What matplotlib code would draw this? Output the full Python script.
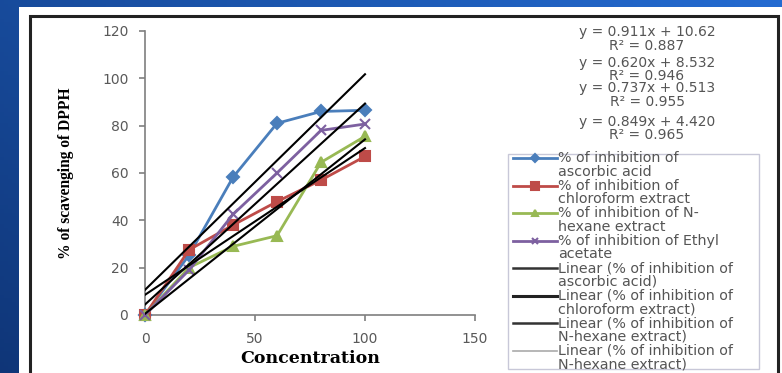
import numpy as np
import matplotlib
matplotlib.use("Agg")
import matplotlib.pyplot as plt
from matplotlib.lines import Line2D
from matplotlib.patches import Rectangle

# ---- data ----
conc = [0, 20, 40, 60, 80, 100]
ascorbic = [0, 25.3, 58.2, 81, 86, 86.5]
chloroform = [0, 27.5, 38, 47.9, 57, 67]
hexane = [0, 20, 29, 33.5, 64.5, 75.5]
ethyl = [0, 19, 42.5, 60, 78, 80.7]

slopes = [0.911, 0.620, 0.737, 0.849]
intercepts = [10.62, 8.532, 0.513, 4.420]
eq_labels = ["y = 0.911x + 10.62\nR² = 0.887",
             "y = 0.620x + 8.532\nR² = 0.946",
             "y = 0.737x + 0.513\nR² = 0.955",
             "y = 0.849x + 4.420\nR² = 0.965"]
legend_labels = ["% of inhibition of\nascorbic acid",
                 "% of inhibition of\nchloroform extract",
                 "% of inhibition of N-\nhexane extract",
                 "% of inhibition of Ethyl\nacetate",
                 "Linear (% of inhibition of\nascorbic acid)",
                 "Linear (% of inhibition of\nchloroform extract)",
                 "Linear (% of inhibition of\nN-hexane extract)",
                 "Linear (% of inhibition of\nN-hexane extract)"]
xticks = [0, 50, 100, 150]
yticks = [0, 20, 40, 60, 80, 100, 120]

W, H = 782, 373
fig = plt.figure(figsize=(W / 100, H / 100), dpi=100)

# background gradient
bg = fig.add_axes([0, 0, 1, 1])
bg.set_axis_off()
gx = np.linspace(0, 1, 200)
gy = np.linspace(0, 1, 100)
GX, GY = np.meshgrid(gx, gy)
t = np.clip(0.6 * GX + 0.4 * (1 - GY), 0, 1)
c0 = np.array([0.06, 0.21, 0.47])
c1 = np.array([0.14, 0.42, 0.82])
img = c0[None, None, :] * (1 - t[..., None]) + c1[None, None, :] * t[..., None]
bg.imshow(img, extent=[0, 1, 0, 1], aspect="auto", origin="upper")
bg.set_xlim(0, 1)
bg.set_ylim(0, 1)


def px(x, y):
    return x / W, 1 - y / H


# white panel and black frame
bg.add_patch(Rectangle(px(19, 400), (W - 19) / W, (400 - 7) / H, facecolor="white", edgecolor="none"))
bg.add_patch(Rectangle(px(30, 400), (778 - 30) / W, (400 - 16) / H, facecolor="none",
                       edgecolor="#222222", linewidth=2.2))

# main axes
ax = fig.add_axes([145 / W, 1 - 315 / H, (475 - 145) / W, (315 - 31) / H])
ax.set_facecolor("none")
ax.set_xlim(0, 150)
ax.set_ylim(0, 120)
for s in ["top", "right"]:
    ax.spines[s].set_visible(False)
for s in ["left", "bottom"]:
    ax.spines[s].set_color("#7f7f7f")
    ax.spines[s].set_linewidth(1.2)
ax.set_xticks(xticks)
ax.set_yticks(yticks)
ax.tick_params(colors="#7f7f7f", labelcolor="#595959", labelsize=10, length=4, width=1.2)
ax.tick_params(axis="x", pad=8)
ax.tick_params(axis="y", pad=8)
for lab in ax.get_xticklabels() + ax.get_yticklabels():
    lab.set_fontfamily("DejaVu Sans")

series = [
    (ascorbic, "#4a7ebb", "D", 6),
    (chloroform, "#be4b48", "s", 7),
    (hexane, "#98b954", "^", 7),
    (ethyl, "#7d60a0", "x", 7),
]
for vals, col, mk, ms in series:
    ax.plot(conc, vals, color=col, lw=2, marker=mk, markersize=ms, markeredgewidth=1.5, clip_on=False, zorder=3)

xl = np.array([0, 100])
for m, b in zip(slopes, intercepts):
    ax.plot(xl, m * xl + b, color="black", lw=1.5, zorder=4)

ax.set_xlabel("Concentration", fontfamily="DejaVu Serif", fontweight="bold", fontsize=12.5, labelpad=3)
ax.set_ylabel("% of scavenging of DPPH", fontfamily="Liberation Serif", fontweight="bold", fontsize=11.2, labelpad=20)

# equations
eq_y = [39, 69.5, 95, 128.5]
for txt, yy in zip(eq_labels, eq_y):
    fx, fy = px(647, yy)
    fig.text(fx, fy, txt, ha="center", va="center", fontsize=10, color="#555555",
             fontfamily="DejaVu Sans", linespacing=0.95)

# legend (manual)
bg.add_patch(Rectangle(px(508, 369), (759 - 508) / W, (369 - 154) / H, facecolor="white",
                       edgecolor="#c8c8d8", linewidth=1))
handle_styles = [
    ("#4a7ebb", "D", 4, 2, 1.5),
    ("#be4b48", "s", 6, 2, 1.5),
    ("#98b954", "^", 5, 2, 1.5),
    ("#7d60a0", "x", 5, 2, 1.5),
    ("#333333", None, 0, 1.8, 1),
    ("#222222", None, 0, 2.2, 1),
    ("#333333", None, 0, 1.8, 1),
    ("#aaaaaa", None, 0, 1.2, 1),
]
y0, dy = 158, 13.75
for j, txt in enumerate(legend_labels):
    yy = y0 + 2 * j * dy + dy / 2
    fx, fy = px(558, yy)
    fig.text(fx, fy, txt, ha="left", va="center", fontsize=10.3, color="#555555",
             fontfamily="DejaVu Sans", linespacing=0.95)
for j, (col, mk, ms, lw, mew) in enumerate(handle_styles):
    yy = y0 + 2 * j * dy
    xa, ya = px(513, yy)
    xb, _ = px(557, yy)
    bg.add_line(Line2D([xa, xb], [ya, ya], color=col, lw=lw))
    if mk:
        bg.add_line(Line2D([(xa + xb) / 2], [ya], color=col, marker=mk, markersize=ms, markeredgewidth=mew, lw=0))

fig.savefig("out.png", dpi=100)
